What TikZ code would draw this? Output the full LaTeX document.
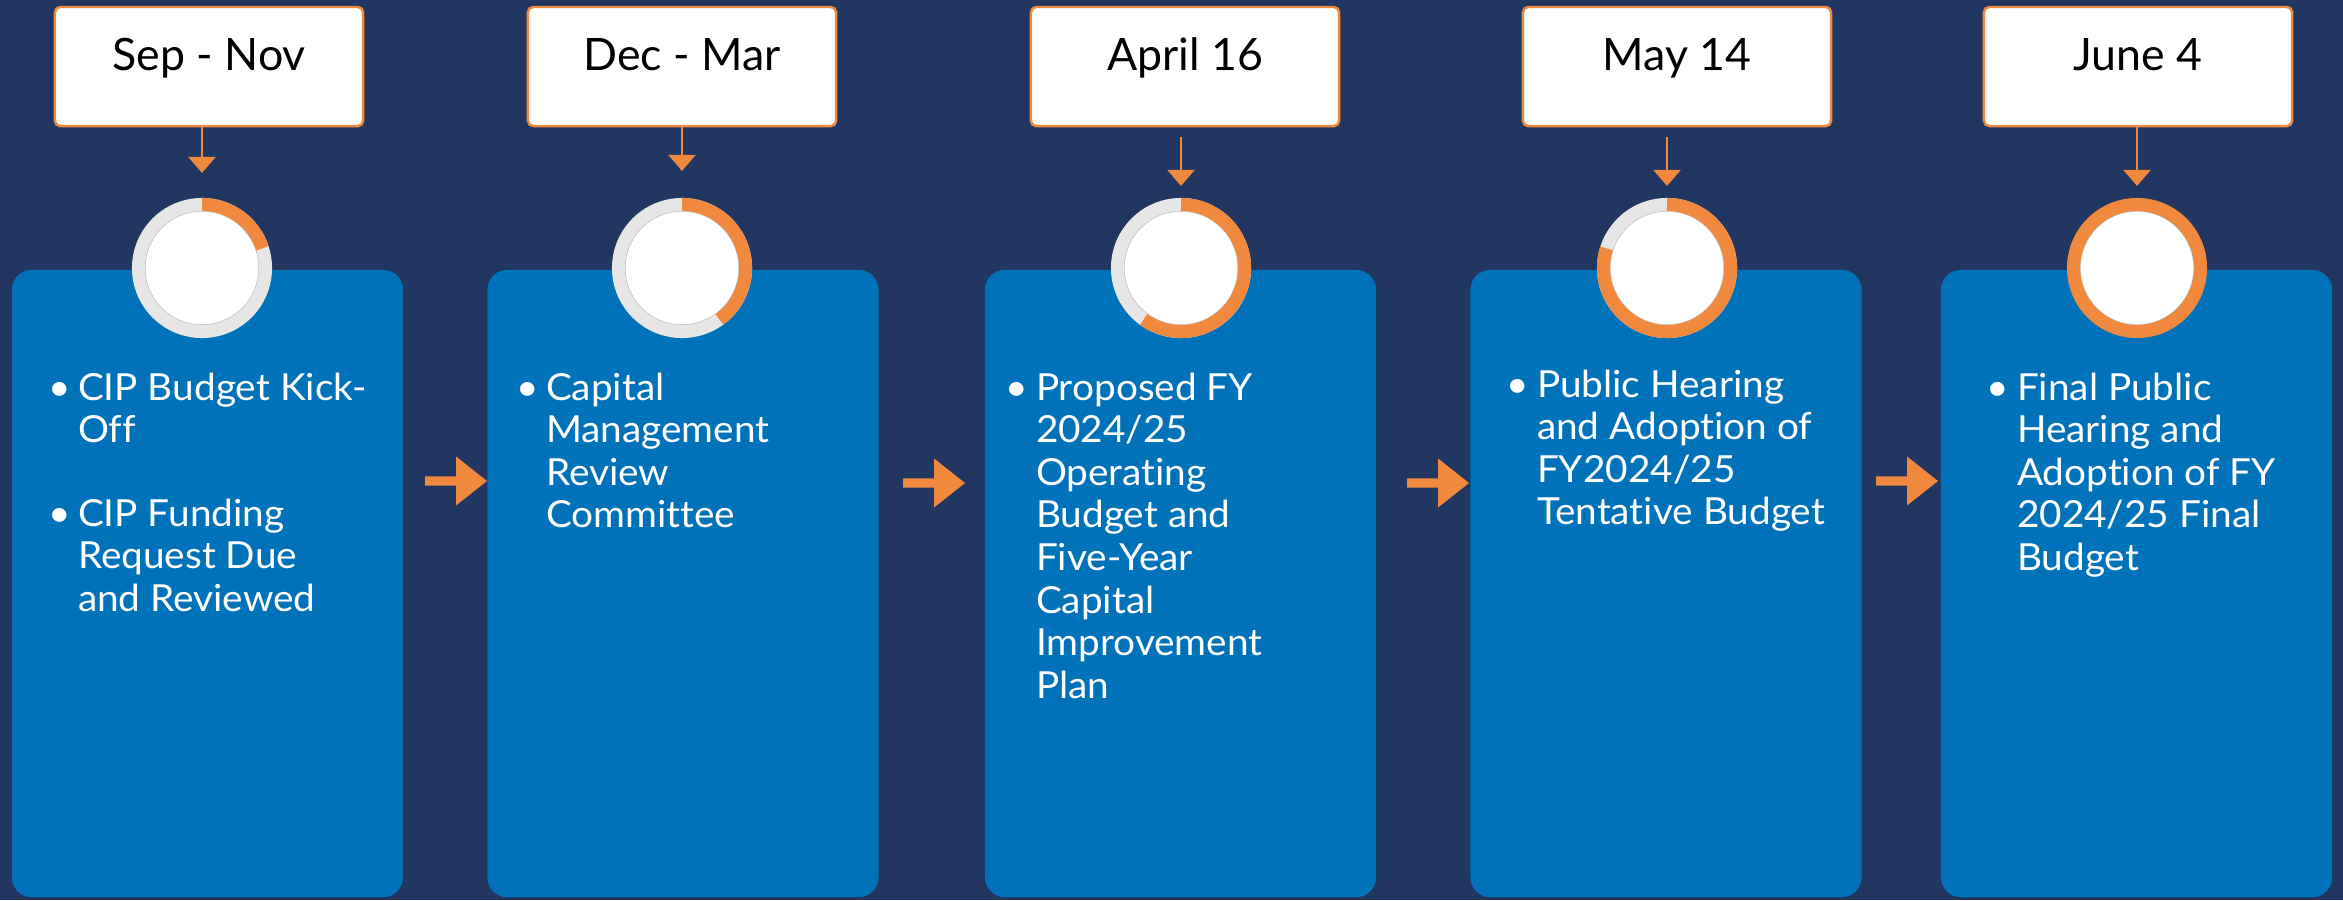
\documentclass[tikz,border=0pt]{standalone}
\usepackage{fontspec}
\setmainfont{Lato}[Ligatures=NoCommon]
\newfontfamily\bodyfont{Lato}[Ligatures=NoCommon, FakeStretch=1.04]
\usetikzlibrary{arrows.meta,calc}
\definecolor{bgnavy}{HTML}{213761}
\definecolor{boxblue}{HTML}{0072BA}
\definecolor{accorange}{HTML}{F0893E}
\definecolor{ringgrey}{HTML}{E6E6E6}
\tikzset{
  datebox/.style={draw=accorange, line width=0.7pt, fill=white, rounded corners=1.5pt,
    minimum width=3.08cm, inner sep=0pt, outer sep=0pt, text height=0.63cm, text depth=0.56cm,
    font=\fontsize{12.7pt}{15pt}\selectfont, text=black, anchor=north},
  stagebox/.style={fill=boxblue, rounded corners=0.2cm, minimum width=3.91cm, minimum height=6.27cm,
    inner sep=0pt, outer sep=0pt},
  hub/.style={circle, fill=white, draw=gray!55, line width=0.3pt, minimum size=1.14cm, inner sep=0pt, outer sep=0pt},
  ringbase/.style={draw=ringgrey, line width=0.13cm},
  ringdone/.style={draw=accorange, line width=0.13cm},
  varrow/.style={draw=accorange, line width=0.6pt, -{Triangle[width=0.27cm,length=0.16cm]}},
  bodytxt/.style={text=white, inner sep=0pt, outer sep=0pt, font=\bodyfont\fontsize{10.6pt}{12.12pt}\selectfont},
  blockarrow/.style={fill=accorange}
}
\newcommand{\harrowat}[1]{%
  \fill[blockarrow] ($(#1)+(-62,-4.6)$) -- ($(#1)+(-31,-4.6)$) -- ($(#1)+(-31,-24.5)$) -- (#1)
    -- ($(#1)+(-31,24.5)$) -- ($(#1)+(-31,4.6)$) -- ($(#1)+(-62,4.6)$) -- cycle;}
\newcommand{\progressring}[2]{%
  \draw[ringbase] (#1.center) circle[radius=0.635cm];
  \draw[ringdone] ([shift={(90:0.635cm)}]#1.center) arc[start angle=90, end angle={90-360*#2}, radius=0.635cm];}
\begin{document}
\begin{tikzpicture}[x=0.01cm,y=-0.01cm]
\fill[bgnavy] (0,0) rectangle (2343,900);
\useasboundingbox (0,0) rectangle (2343,900);

% stage boxes
\node[stagebox] (b1) at (207.5,583.5) {};
\node[stagebox] (b2) at (683,583.5) {};
\node[stagebox] (b3) at (1180.5,583.5) {};
\node[stagebox] (b4) at (1666,583.5) {};
\node[stagebox] (b5) at (2136.5,583.5) {};

% date boxes
\node[datebox] (d1) at (209,7) {Sep - Nov};
\node[datebox] (d2) at (682,7) {Dec - Mar};
\node[datebox] (d3) at (1185,7) {April 16};
\node[datebox] (d4) at (1677,7) {May 14};
\node[datebox] (d5) at (2138,7) {June 4};

% progress circles
\node[hub] (c1) at (202,268) {};
\node[hub] (c2) at (682,268) {};
\node[hub] (c3) at (1181,268) {};
\node[hub] (c4) at (1667,268) {};
\node[hub] (c5) at (2137,268) {};
\progressring{c1}{0.2}
\progressring{c2}{0.4}
\progressring{c3}{0.6}
\progressring{c4}{0.8}
\draw[ringdone] (c5.center) circle[radius=0.635cm];

% vertical arrows
\draw[varrow, shorten >=0.38cm] (c1.north |- d1.south) -- (c1.north);
\draw[varrow, shorten >=0.40cm] (c2.north |- d2.south) -- (c2.north);
\draw[varrow, shorten <=0.11cm, shorten >=0.25cm] (c3.north |- d3.south) -- (c3.north);
\draw[varrow, shorten <=0.11cm, shorten >=0.25cm] (c4.north |- d4.south) -- (c4.north);
\draw[varrow, shorten >=0.25cm] (c5.north |- d5.south) -- (c5.north);

% horizontal block arrows
\coordinate (h1) at (487,481);
\coordinate (h2) at (965,483);
\coordinate (h3) at (1469,483);
\coordinate (h4) at (1938,481);
\harrowat{h1}
\harrowat{h2}
\harrowat{h3}
\harrowat{h4}

% texts
\node[bodytxt, anchor=base] (u1a) at (60,400) {•};
\node[bodytxt, anchor=base west] (t1a) at (78,400) {\parbox[t]{3.2cm}{\raggedright CIP Budget Kick-\\Off}};
\node[bodytxt, anchor=base] (u1b) at (60,526) {•};
\node[bodytxt, anchor=base west] (t1b) at (78,526) {\parbox[t]{3.2cm}{\raggedright CIP Funding\\Request Due\\and Reviewed}};

\node[bodytxt, anchor=base] (u2) at (528,400) {•};
\node[bodytxt, anchor=base west] (t2) at (546,400) {\parbox[t]{3.2cm}{\raggedright Capital\\Management\\Review\\Committee}};

\node[bodytxt, anchor=base] (u3) at (1017,400) {•};
\node[bodytxt, anchor=base west] (t3) at (1036,400) {\parbox[t]{3.2cm}{\raggedright Proposed FY\\2024/25\\Operating\\Budget and\\Five-Year\\Capital\\Improvement\\Plan}};

\node[bodytxt, anchor=base] (u4) at (1518,397) {•};
\node[bodytxt, anchor=base west] (t4) at (1537,397) {\parbox[t]{3.2cm}{\raggedright Public Hearing\\and Adoption of\\FY2024/25\\Tentative Budget}};

\node[bodytxt, anchor=base] (u5) at (1998,400) {•};
\node[bodytxt, anchor=base west] (t5) at (2017,400) {\parbox[t]{3.2cm}{\raggedright Final Public\\Hearing and\\Adoption of FY\\2024/25 Final\\Budget}};
\end{tikzpicture}
\end{document}
